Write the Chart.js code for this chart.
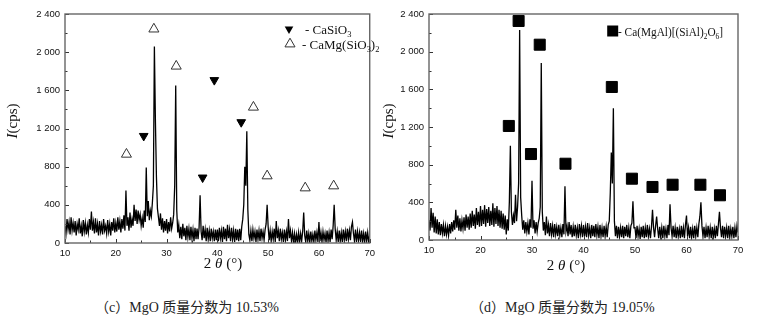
<!DOCTYPE html>
<html lang="zh">

<head>
    <meta charset="UTF-8">
    <meta name="viewport" content="width=device-width, initial-scale=1.0">
    <title>XRD 图谱</title>
    <script src="https://cdn.jsdelivr.net/npm/chart.js"></script>
    <style>
        * {
            margin: 0;
            padding: 0;
        }

        body {
            background-color: #fff;
            width: 763px;
            height: 323px;
            position: relative;
            overflow: hidden;
        }

        .panel {
            position: absolute;
            top: 0;
            height: 280px;
        }

        #panelC {
            left: 0;
            width: 380px;
        }

        #panelD {
            left: 380px;
            width: 383px;
        }

        .caption {
            position: absolute;
            top: 296px;
            font: 14px "Liberation Serif", "Noto Sans CJK SC", serif;
            color: #222;
            white-space: nowrap;
        }
    </style>
</head>

<body>
    <div class="panel" id="panelC"><canvas id="chartC"></canvas></div>
    <div class="panel" id="panelD"><canvas id="chartD"></canvas></div>
    <div class="caption" style="left: 95px;">（c）MgO 质量分数为 10.53%</div>
    <div class="caption" style="left: 470px;">（d）MgO 质量分数为 19.05%</div>

    <script>
        // diffraction scans, one reading every 0.2 degrees of 2θ from 10 to 70
        const angleStart = 10;
        const angleStep = 0.2;

        const countsC = [
            180, 100, 250, 140, 220, 90, 270, 130, 210, 110, // 10
            230, 80, 200, 140, 260, 100, 180, 70, 240, 120,  // 12
            210, 90, 190, 110, 250, 140, 330, 130, 220, 100, // 14
            260, 110, 200, 80, 230, 120, 190, 90, 250, 130,  // 16
            180, 100, 240, 120, 200, 80, 220, 130, 260, 110, // 18
            210, 120, 270, 140, 230, 110, 250, 150, 290, 130, // 20
            550, 180, 270, 130, 320, 160, 250, 180, 400, 230, // 22
            350, 200, 340, 240, 300, 180, 260, 160, 340, 220, // 24
            790, 280, 440, 240, 340, 280, 420, 600, 2060, 1290, // 26
            700, 360, 270, 180, 310, 140, 260, 110, 230, 130, // 28
            250, 100, 220, 120, 270, 150, 210, 300, 600, 1650, // 30
            350, 110, 190, 50, 170, 40, 200, 70, 160, 30,     // 32
            180, 60, 150, 30, 170, 50, 140, 20, 160, 40,      // 34
            150, 40, 160, 500, 120, 30, 180, 50, 140, 20,     // 36
            160, 40, 130, 20, 150, 50, 120, 20, 140, 30,      // 38
            140, 20, 160, 50, 130, 10, 170, 40, 150, 20,      // 40
            190, 50, 140, 20, 160, 40, 130, 10, 150, 30,      // 42
            140, 20, 150, 30, 170, 250, 400, 800, 600, 1170,  // 44
            350, 90, 30, 130, 20, 140, 50, 120, 10, 140,      // 46
            40, 130, 20, 150, 50, 120, 30, 140, 200, 400,     // 48
            170, 30, 130, 20, 120, 40, 150, 10, 230, 50,      // 50
            130, 20, 150, 40, 110, 10, 140, 30, 120, 20,      // 52
            250, 50, 130, 20, 110, 5, 100, 10, 90, 5,         // 54
            110, 10, 100, 20, 120, 320, 80, 10, 130, 20,      // 56
            100, 5, 120, 20, 90, 10, 130, 30, 110, 10,        // 58
            220, 20, 110, 10, 120, 30, 100, 5, 130, 20,       // 60
            110, 10, 140, 40, 180, 400, 150, 30, 120, 10,     // 62
            130, 20, 110, 10, 140, 30, 120, 20, 150, 40,      // 64
            130, 30, 170, 220, 100, 20, 140, 10, 120, 30,     // 66
            110, 10, 130, 20, 100, 5, 120, 20, 110, 10,       // 68
            80                                                // 70
        ];

        const countsD = [
            210, 100, 340, 130, 290, 80, 250, 70, 220, 60,    // 10
            190, 50, 170, 70, 160, 40, 150, 60, 140, 50,      // 12
            170, 70, 190, 90, 210, 110, 320, 130, 260, 100,   // 14
            230, 90, 210, 120, 240, 100, 270, 130, 250, 110,  // 16
            280, 130, 310, 150, 270, 120, 340, 160, 300, 140, // 18
            360, 150, 320, 170, 370, 140, 330, 180, 350, 150, // 20
            310, 160, 390, 140, 340, 170, 360, 150, 320, 130, // 22
            310, 120, 280, 110, 260, 60, 220, 100, 400, 1000, // 24
            300, 160, 260, 180, 480, 200, 350, 600, 2230, 450, // 26
            260, 110, 210, 70, 190, 90, 180, 60, 220, 130,    // 28
            630, 120, 210, 70, 190, 90, 180, 230, 350, 1880,  // 30
            300, 100, 190, 50, 250, 70, 160, 40, 180, 60,     // 32
            150, 30, 170, 60, 140, 40, 160, 50, 130, 30,      // 34
            170, 60, 570, 90, 150, 40, 190, 60, 160, 30,      // 36
            140, 40, 160, 50, 130, 20, 170, 60, 150, 30,      // 38
            160, 40, 140, 30, 180, 50, 130, 20, 160, 40,      // 40
            150, 30, 170, 50, 140, 20, 160, 40, 130, 30,      // 42
            150, 40, 140, 30, 160, 200, 500, 930, 600, 1400,  // 44
            200, 40, 150, 20, 140, 40, 130, 30, 150, 20,      // 46
            140, 40, 160, 30, 130, 20, 150, 180, 410, 130,    // 48
            130, 20, 150, 40, 120, 10, 140, 30, 150, 20,      // 50
            130, 30, 160, 40, 120, 20, 140, 320, 130, 30,     // 52
            150, 250, 120, 20, 140, 30, 130, 20, 150, 40,     // 54
            120, 20, 160, 50, 380, 130, 40, 150, 30, 130,     // 56
            20, 140, 40, 120, 20, 150, 30, 130, 20, 160,      // 58
            260, 40, 130, 20, 140, 30, 120, 20, 150, 40,      // 60
            130, 30, 170, 250, 400, 150, 40, 140, 20, 130,    // 62
            30, 150, 40, 130, 20, 140, 30, 120, 20, 150,      // 64
            40, 170, 300, 130, 30, 150, 20, 140, 40, 130,     // 66
            20, 150, 30, 120, 40, 140, 20, 130, 30, 150,      // 68
            80                                                // 70
        ];

        // phase markers (2θ, height where the symbol sits)
        const casio3Angles = [25.5, 37.1, 39.4, 44.7];
        const casio3Heights = [1122, 686, 1707, 1266];
        const diopsideAngles = [22.1, 27.5, 31.9, 47.1, 49.8, 57.3, 62.9];
        const diopsideHeights = [930, 2242, 1853, 1423, 703, 577, 598];
        const augiteAngles = [25.5, 27.4, 29.8, 31.5, 36.5, 45.5, 49.4, 53.4, 57.3, 62.7, 66.5];
        const augiteHeights = [1211, 2326, 913, 2074, 810, 1625, 651, 563, 587, 587, 475];

        const xTickValues = [10, 20, 30, 40, 50, 60, 70];
        const yTickValues = [0, 400, 800, 1200, 1600, 2000, 2400];

        const serif = '"Liberation Serif", "DejaVu Serif", serif';

        function toPoints(counts) {
            return counts.map((c, i) => ({ x: angleStart + i * angleStep, y: c }));
        }

        function zip(xs, ys) {
            return xs.map((v, i) => ({ x: v, y: ys[i] }));
        }

        function fmtCount(v) {
            if (v < 1000) return String(v);
            return Math.floor(v / 1000) + ' ' + String(v % 1000).padStart(3, '0');
        }

        // text made of runs: plain, italic, subscript
        function runFont(s, size) {
            const fs = s === 'sub' ? size * 0.65 : size;
            return (s === 'i' ? 'italic ' : '') + fs + 'px ' + serif;
        }

        function runsWidth(ctx, runs, size) {
            let w = 0;
            for (const [t, s] of runs) {
                ctx.font = runFont(s, size);
                w += ctx.measureText(t).width;
            }
            return w;
        }

        function drawRuns(ctx, runs, x, y, size) {
            let cx = x;
            ctx.textAlign = 'left';
            ctx.textBaseline = 'alphabetic';
            for (const [t, s] of runs) {
                ctx.font = runFont(s, size);
                ctx.fillText(t, cx, y + (s === 'sub' ? size * 0.3 : 0));
                cx += ctx.measureText(t).width;
            }
        }

        function markerPath(ctx, shape, x, y, r) {
            ctx.beginPath();
            if (shape === 'rect') {
                ctx.rect(x - r, y - r, 2 * r, 2 * r);
            } else {
                const d = shape === 'down' ? 1 : -1;
                const h = r * Math.sin(Math.PI / 3);
                ctx.moveTo(x, y + d * r);
                ctx.lineTo(x - h, y - d * r / 2);
                ctx.lineTo(x + h, y - d * r / 2);
                ctx.closePath();
            }
        }

        // frame, inward ticks, axis titles and the phase key
        const decorPlugin = {
            id: 'decor',
            afterDraw(chart, args, o) {
                const { ctx, chartArea: a } = chart;
                const xs = chart.scales.x, ys = chart.scales.y;
                ctx.save();

                ctx.strokeStyle = '#333';
                ctx.lineWidth = 1;
                ctx.beginPath();
                for (let i = 0; i < xTickValues.length; i++) {
                    const px = Math.round(xs.getPixelForValue(xTickValues[i])) + 0.5;
                    ctx.moveTo(px, a.bottom);
                    ctx.lineTo(px, a.bottom - 4);
                    if (i < xTickValues.length - 1) {
                        const mx = Math.round(xs.getPixelForValue((xTickValues[i] + xTickValues[i + 1]) / 2)) + 0.5;
                        ctx.moveTo(mx, a.bottom);
                        ctx.lineTo(mx, a.bottom - 2.5);
                    }
                }
                for (let i = 0; i < yTickValues.length; i++) {
                    const py = Math.round(ys.getPixelForValue(yTickValues[i])) + 0.5;
                    ctx.moveTo(a.left, py);
                    ctx.lineTo(a.left + 4, py);
                    if (i < yTickValues.length - 1) {
                        const my = Math.round(ys.getPixelForValue((yTickValues[i] + yTickValues[i + 1]) / 2)) + 0.5;
                        ctx.moveTo(a.left, my);
                        ctx.lineTo(a.left + 2.5, my);
                    }
                }
                ctx.stroke();

                ctx.strokeStyle = '#666';
                ctx.lineWidth = 1.4;
                ctx.strokeRect(a.left, a.top, a.right - a.left, a.bottom - a.top);

                ctx.fillStyle = '#111';
                // x title: 2θ (°)
                const xRuns = [['2 ', ''], ['θ', 'i'], [' (°)', '']];
                const xw = runsWidth(ctx, xRuns, 15);
                drawRuns(ctx, xRuns, o.xTitle[0] - xw / 2, o.xTitle[1], 15);

                // y title: I(cps), rotated
                const yRuns = [['I', 'i'], ['(cps)', '']];
                const yw = runsWidth(ctx, yRuns, 15);
                ctx.save();
                ctx.translate(o.yTitle[0], o.yTitle[1]);
                ctx.rotate(-Math.PI / 2);
                drawRuns(ctx, yRuns, -yw / 2, 5, 15);
                ctx.restore();

                // phase key
                for (const k of o.key) {
                    markerPath(ctx, k.shape, k.mx, k.my, k.r);
                    if (k.open) {
                        ctx.strokeStyle = '#333';
                        ctx.lineWidth = 1;
                        ctx.stroke();
                    } else {
                        ctx.fillStyle = '#000';
                        ctx.fill();
                    }
                    ctx.fillStyle = '#111';
                    ctx.save();
                    ctx.translate(k.tx, k.ty);
                    if (k.width) {
                        ctx.scale(k.width / runsWidth(ctx, k.runs, k.size), 1);
                    }
                    drawRuns(ctx, k.runs, 0, 0, k.size);
                    ctx.restore();
                }
                ctx.restore();
            }
        };

        function makeChart(id, counts, markerSets, o) {
            const datasets = markerSets.map(m => ({
                data: zip(m.angles, m.heights),
                pointStyle: m.style,
                rotation: m.rotation || 0,
                pointRadius: m.radius,
                pointBackgroundColor: m.fill,
                pointBorderColor: m.border,
                pointBorderWidth: 1,
                showLine: false,
                order: 0
            }));
            datasets.push({
                data: toPoints(counts),
                showLine: true,
                borderColor: '#000',
                borderWidth: 1.3,
                pointRadius: 0,
                tension: 0,
                order: 1
            });

            const tickFont = { family: '"Liberation Sans", Arial, sans-serif', size: 9.5 };

            return new Chart(document.getElementById(id), {
                type: 'scatter',
                data: { datasets: datasets },
                options: {
                    responsive: true,
                    maintainAspectRatio: false,
                    animation: false,
                    devicePixelRatio: 1,
                    layout: { padding: o.padding },
                    plugins: {
                        legend: { display: false },
                        tooltip: { enabled: false },
                        decor: o.decor
                    },
                    scales: {
                        x: {
                            type: 'linear',
                            min: 10,
                            max: 70,
                            afterBuildTicks: s => { s.ticks = xTickValues.map(v => ({ value: v })); },
                            afterFit: s => { s.height = o.xHeight; },
                            ticks: { font: tickFont, color: '#111', padding: 5, maxRotation: 0 },
                            grid: { display: false, drawTicks: false },
                            border: { display: false }
                        },
                        y: {
                            min: 0,
                            max: 2400,
                            afterBuildTicks: s => { s.ticks = yTickValues.map(v => ({ value: v })); },
                            afterFit: s => { s.width = o.yWidth; },
                            ticks: { font: tickFont, color: '#111', padding: 5, callback: v => fmtCount(v) },
                            grid: { display: false, drawTicks: false },
                            border: { display: false }
                        }
                    }
                },
                plugins: [decorPlugin]
            });
        }

        makeChart('chartC', countsC, [
            { angles: casio3Angles, heights: casio3Heights, style: 'triangle', rotation: 180, radius: 5, fill: '#000', border: '#000' },
            { angles: diopsideAngles, heights: diopsideHeights, style: 'triangle', radius: 5.8, fill: '#fff', border: '#333' }
        ], {
            padding: { left: 0, right: 3, top: 14, bottom: 0 },
            xHeight: 37,
            yWidth: 65,
            decor: {
                xTitle: [223, 268],
                yTitle: [12, 121],
                key: [
                    { shape: 'down', mx: 289, my: 29, r: 5, tx: 305, ty: 33.5, size: 13, runs: [['- CaSiO', ''], ['3', 'sub']] },
                    { shape: 'up', open: true, mx: 290, my: 44, r: 5.8, tx: 302, ty: 48.5, size: 13, runs: [['- CaMg(SiO', ''], ['3', 'sub'], [')', ''], ['2', 'sub']] }
                ]
            }
        });

        makeChart('chartD', countsD, [
            { angles: augiteAngles, heights: augiteHeights, style: 'rect', radius: 7.8, fill: '#000', border: '#000' }
        ], {
            padding: { left: 0, right: 25, top: 14, bottom: 0 },
            xHeight: 40,
            yWidth: 49,
            decor: {
                xTitle: [186, 270],
                yTitle: [8, 121],
                key: [
                    { shape: 'rect', mx: 232.7, my: 31, r: 5.5, tx: 238, ty: 35.5, size: 13, width: 105, runs: [['- Ca(MgAl)[(SiAl)', ''], ['2', 'sub'], ['O', ''], ['6', 'sub'], [']', '']] }
                ]
            }
        });
    </script>
</body>

</html>
